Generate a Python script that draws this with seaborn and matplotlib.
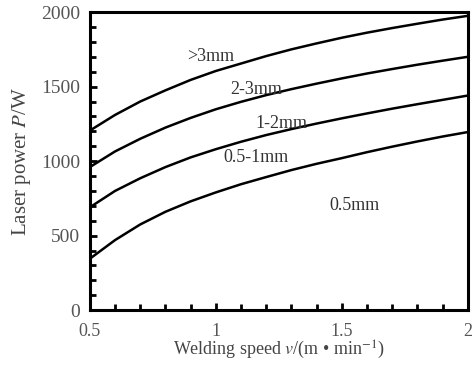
import matplotlib
matplotlib.use("Agg")
import matplotlib.pyplot as plt
import seaborn as sns
import pandas as pd
from matplotlib.ticker import MultipleLocator

speed = [0.5, 0.6, 0.7, 0.8, 0.9, 1.0, 1.1, 1.2, 1.3, 1.4, 1.5, 1.6, 1.7, 1.8, 1.9, 2.0]
p_gt3 = [1205, 1310, 1400, 1475, 1545, 1605, 1655, 1705, 1750, 1790, 1828, 1862, 1893, 1922, 1950, 1975]
p_2_3 = [960, 1065, 1150, 1225, 1290, 1348, 1398, 1443, 1483, 1520, 1555, 1588, 1618, 1647, 1674, 1700]
p_1_2 = [690, 800, 885, 960, 1025, 1080, 1130, 1175, 1215, 1252, 1287, 1320, 1352, 1382, 1411, 1440]
p_05_1 = [345, 470, 575, 660, 730, 790, 845, 893, 940, 982, 1020, 1060, 1097, 1132, 1165, 1195]
series_names = [">3mm", "2-3mm", "1-2mm", "0.5-1mm"]
label_names = [">3mm", "2-3mm", "1-2mm", "0.5-1mm", "0.5mm"]
label_x = [0.98, 1.16, 1.26, 1.16, 1.55]
label_y = [1700, 1478, 1255, 1027, 705]

rows = []
for name, vals in zip(series_names, [p_gt3, p_2_3, p_1_2, p_05_1]):
    for s, v in zip(speed, vals):
        rows.append({"speed": s, "power": v, "series": name})
df = pd.DataFrame(rows)

sns.set_style("ticks")
plt.rcParams["font.family"] = ["Liberation Serif", "DejaVu Serif"]
plt.rcParams["mathtext.fontset"] = "stix"

fig = plt.figure(figsize=(4.73, 3.67), dpi=100)
ax = fig.add_axes([0.190, 0.155, 0.799, 0.812])

sns.lineplot(data=df, x="speed", y="power", units="series", estimator=None,
             color="black", lw=1.8, ax=ax)

ax.set_xlim(0.5, 2.0)
ax.set_ylim(0, 2000)
ax.xaxis.set_major_locator(MultipleLocator(0.5))
ax.xaxis.set_minor_locator(MultipleLocator(0.1))
ax.yaxis.set_major_locator(MultipleLocator(500))
ax.yaxis.set_minor_locator(MultipleLocator(100))
ax.set_xticks([0.5, 1.0, 1.5, 2.0])
ax.set_xticklabels(["0.5", "1", "1.5", "2"])
ax.tick_params(which="both", direction="in", width=2, colors="black",
               labelcolor="#555555")
ax.tick_params(axis="y", labelsize=14, pad=7)
ax.tick_params(axis="x", labelsize=13, pad=9)
ax.tick_params(which="major", length=5)
ax.tick_params(which="minor", length=4)
for sp in ax.spines.values():
    sp.set_linewidth(2.2)
    sp.set_color("black")

for t, x, y in zip(label_names, label_x, label_y):
    ax.text(x, y, t, ha="center", va="center", fontsize=13, color="#333333")

ax.set_xlabel("Welding speed $v$/(m • min$^{-1}$)", fontsize=13, color="#444444", labelpad=-1)
ax.set_ylabel("Laser power $P$/W", fontsize=15, color="#444444", labelpad=6)

fig.savefig("out.png", dpi=100)
